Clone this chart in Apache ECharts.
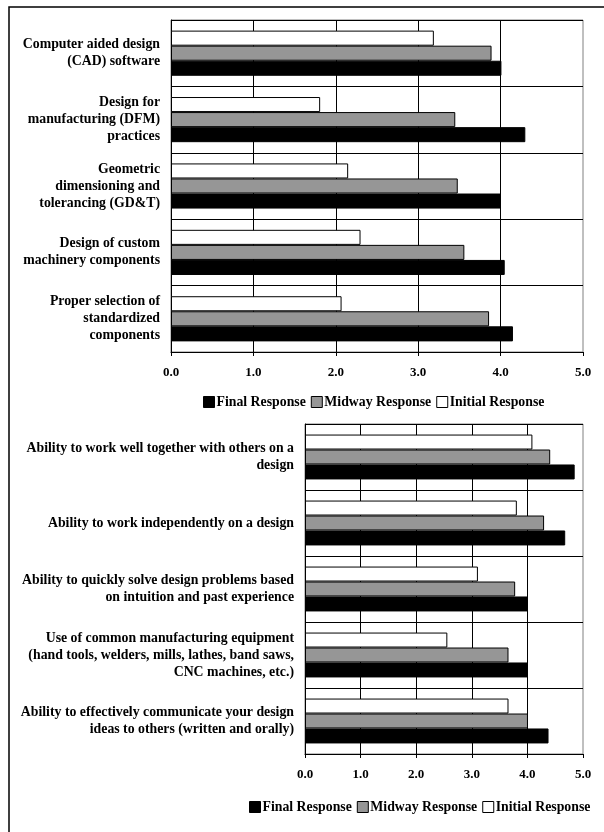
<!DOCTYPE html>
<html>
<head>
<meta charset="utf-8">
<script src="https://cdn.jsdelivr.net/npm/echarts@6/dist/echarts.min.js"></script>
<style>
  html, body { margin: 0; padding: 0; background: #fff; }
  #chart { width: 604px; height: 832px; }
</style>
</head>
<body>
<div id="chart"></div>
<script>
// Design knowledge self-assessment (upper panel)
const designTopics = [
  'Computer aided design\n(CAD) software',
  'Design for\nmanufacturing (DFM)\npractices',
  'Geometric\ndimensioning and\ntolerancing (GD&T)',
  'Design of custom\nmachinery components',
  'Proper selection of\nstandardized\ncomponents'
];
const designFinal   = [4.01, 4.30, 4.00, 4.05, 4.15];
const designMidway  = [3.89, 3.45, 3.48, 3.56, 3.86];
const designInitial = [3.19, 1.81, 2.15, 2.30, 2.07];

// Teamwork and practical skills (lower panel)
const skillTopics = [
  'Ability to work well together with others on a\ndesign',
  'Ability to work independently on a design',
  'Ability to quickly solve design problems based\non intuition and past experience',
  'Use of common manufacturing equipment\n(hand tools, welders, mills, lathes, band saws,\nCNC machines, etc.)',
  'Ability to effectively communicate your design\nideas to others (written and orally)'
];
const skillFinal   = [4.85, 4.68, 4.01, 4.01, 4.38];
const skillMidway  = [4.41, 4.30, 3.78, 3.66, 4.01];
const skillInitial = [4.09, 3.81, 3.11, 2.56, 3.66];

const responseNames = ['Final Response', 'Midway Response', 'Initial Response'];
const scaleTicks = ['0.0', '1.0', '2.0', '3.0', '4.0', '5.0'];

const FONT = "'Liberation Serif', 'Times New Roman', serif";
const colors = { 'Final Response': '#000000', 'Midway Response': '#969696', 'Initial Response': '#ffffff' };

function valueAxis(gridIndex) {
  return {
    type: 'value', gridIndex, min: 0, max: 5, interval: 1,
    axisLine: { show: true, lineStyle: { color: '#000', width: 1 } },
    axisTick: { show: true, length: 4, lineStyle: { color: '#000' } },
    axisLabel: {
      margin: 14, color: '#000', fontFamily: FONT, fontWeight: 'bold', fontSize: 13,
      formatter: v => scaleTicks[Math.round(v)]
    },
    splitLine: { show: true, showMaxLine: false, lineStyle: { color: '#000', width: 1 } }
  };
}

function categoryAxis(gridIndex, cats) {
  return {
    type: 'category', gridIndex, data: cats, inverse: true,
    axisLine: { show: true, lineStyle: { color: '#000', width: 1 } },
    axisTick: { show: false },
    axisLabel: {
      margin: 11, color: '#000', fontFamily: FONT, fontWeight: 'bold', fontSize: 13.8,
      lineHeight: 17, align: 'right', interval: 0
    },
    splitLine: { show: true, interval: 0, lineStyle: { color: '#000', width: 1 } }
  };
}

function barSeries(name, axisIdx, data) {
  return {
    name, type: 'bar', xAxisIndex: axisIdx, yAxisIndex: axisIdx, data,
    barCategoryGap: '32%', barGap: '0%',
    itemStyle: { color: colors[name], borderColor: '#000', borderWidth: 1 },
    emphasis: { disabled: true },
    animation: false
  };
}

function legendAt(left, top) {
  return {
    data: responseNames, left, top, orient: 'horizontal',
    itemWidth: 11, itemHeight: 11, itemGap: 5,
    icon: 'rect',
    itemStyle: { borderColor: '#000', borderWidth: 1 },
    textStyle: { color: '#000', fontFamily: FONT, fontWeight: 'bold', fontSize: 13.8, padding: [0, 0, 0, -3] },
    selectedMode: false
  };
}

const chart = echarts.init(document.getElementById('chart'), null, { renderer: 'canvas' });
chart.setOption({
  backgroundColor: '#fff',
  animation: false,
  graphic: [{
    type: 'polyline',
    shape: { points: [[9, 840], [9, 7], [610, 7]] },
    style: { stroke: '#000', lineWidth: 1.5, fill: null },
    silent: true
  }],
  grid: [
    { left: 171, top: 20, width: 412, height: 332, show: true, borderColor: '#808080', borderWidth: 1, backgroundColor: '#fff' },
    { left: 305, top: 424, width: 278, height: 330, show: true, borderColor: '#808080', borderWidth: 1, backgroundColor: '#fff' }
  ],
  legend: [legendAt(198, 390), legendAt(244, 795)],
  xAxis: [valueAxis(0), valueAxis(1)],
  yAxis: [categoryAxis(0, designTopics), categoryAxis(1, skillTopics)],
  series: [
    barSeries('Initial Response', 0, designInitial),
    barSeries('Midway Response', 0, designMidway),
    barSeries('Final Response', 0, designFinal),
    barSeries('Initial Response', 1, skillInitial),
    barSeries('Midway Response', 1, skillMidway),
    barSeries('Final Response', 1, skillFinal)
  ]
});
</script>
</body>
</html>
